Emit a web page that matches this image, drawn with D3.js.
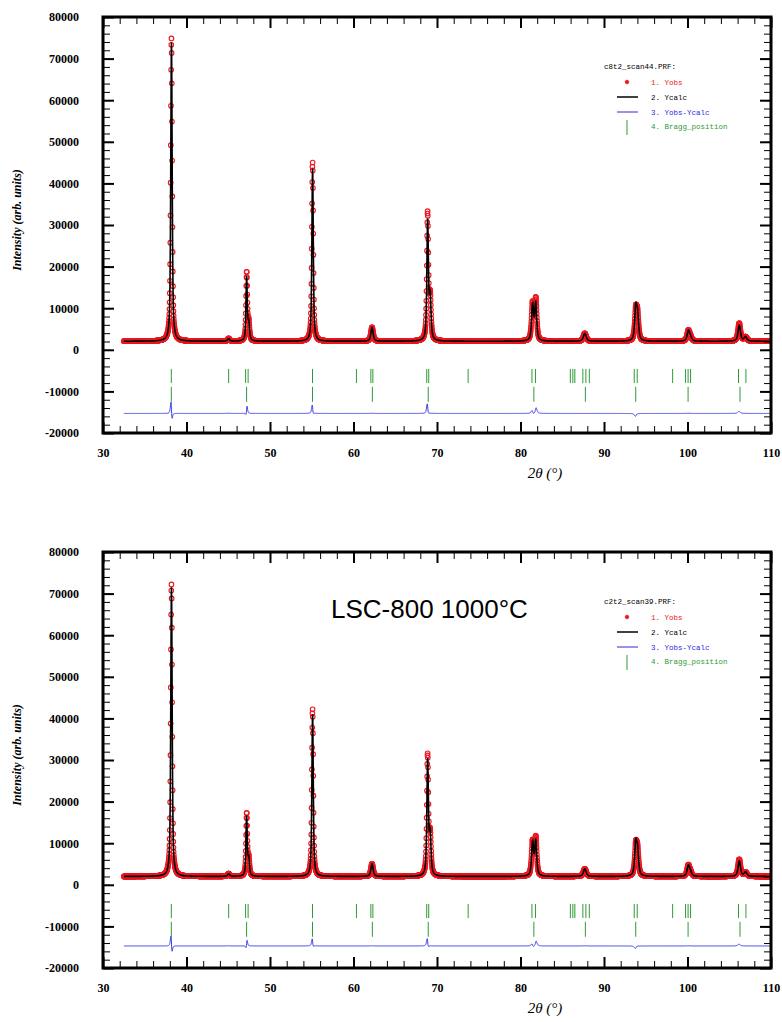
<!DOCTYPE html>
<html>
<head>
<meta charset="utf-8">
<script src="https://cdn.jsdelivr.net/npm/d3@7"></script>
<style>
  body { margin: 0; background: #fff; }
  svg text { fill: #000; }
</style>
</head>
<body>
<div id="chart"></div>
<script>
// scan range and step (deg 2theta)
const scanStart = 32.5;
const scanEnd = 110;
const scanStep = 0.02;

const xTickValues = [30, 40, 50, 60, 70, 80, 90, 100, 110];
const yTickValues = [80000, 70000, 60000, 50000, 40000, 30000, 20000, 10000, 0, -10000, -20000];

// reflections (c8t2_scan44)
const peakPosTop = [38.2, 45.05, 47.2, 47.45, 55.1, 62.22, 68.88, 69.18, 81.45, 81.82, 87.7, 93.8, 94.02, 100.1, 100.35, 106.2, 106.95];
const peakFwhmTop = [0.2, 0.3, 0.18, 0.22, 0.2, 0.32, 0.22, 0.25, 0.28, 0.28, 0.4, 0.3, 0.3, 0.35, 0.35, 0.35, 0.4];
const calcHeightTop = [71800, 600, 15200, 4200, 41500, 3300, 28500, 10000, 8500, 8800, 1900, 7500, 5800, 2400, 900, 3800, 1000];
const obsHeightTop = [72900, 650, 16300, 4200, 43000, 3350, 30300, 10000, 8900, 10000, 1900, 6900, 5800, 2450, 900, 4300, 1000];
const obsShiftTop = [-0.004, 0, 0.008, 0, -0.003, 0, -0.005, 0, -0.008, 0.008, 0, 0.006, 0, 0, 0, -0.004, 0];
const backgroundTop = 2050;
const diffOffsetTop = -15300;

// reflections (c2t2_scan39)
const peakPosBottom = [38.2, 45.05, 47.2, 47.45, 55.1, 62.22, 68.88, 69.18, 81.45, 81.82, 87.7, 93.8, 94.02, 100.1, 100.35, 106.2, 106.95];
const peakFwhmBottom = [0.2, 0.3, 0.18, 0.22, 0.2, 0.32, 0.22, 0.25, 0.28, 0.28, 0.4, 0.3, 0.3, 0.35, 0.35, 0.35, 0.4];
const calcHeightBottom = [69500, 600, 14200, 4000, 39000, 3000, 27500, 9500, 8000, 8200, 1800, 7400, 5700, 2500, 900, 3700, 1000];
const obsHeightBottom = [70300, 650, 14900, 4000, 40200, 3050, 28700, 9500, 8200, 9200, 1850, 6900, 5700, 2550, 900, 4100, 1000];
const obsShiftBottom = [-0.004, 0, 0.008, 0, -0.003, 0, -0.005, 0, -0.008, 0.008, 0, 0.006, 0, 0, 0, -0.004, 0];
const backgroundBottom = 2000;
const diffOffsetBottom = -14700;

// Bragg positions, two phases
const braggPhase1 = [38.18, 45.05, 47.08, 47.38, 55.09, 60.35, 62.08, 62.32, 68.77, 69.01, 73.73, 81.37, 81.79, 85.97, 86.27, 86.51, 87.47, 87.83, 88.24, 93.62, 93.98, 98.22, 99.77, 100.07, 100.37, 106.11, 107.0];
const braggPhase2 = [38.18, 47.2, 55.09, 62.26, 68.95, 81.6, 87.77, 93.8, 100.07, 106.29];

const legendLabels = ["1. Yobs", "2. Ycalc", "3. Yobs-Ycalc", "4. Bragg_position"];

const width = 782, height = 1022;
const margin = { left: 103, right: 11 };
const plotHeight = 416;
const red = "#ec1820", blue = "#2a2ae0", green = "#2f9a35";

const svg = d3.select("#chart").append("svg")
  .attr("width", width)
  .attr("height", height)
  .style("font-family", "'Liberation Serif', 'Times New Roman', serif");

let xScale = d3.scaleLinear()
  .domain([30, 110])
  .range([margin.left, width - margin.right]);

let scanX = d3.range(Math.round((scanEnd - scanStart) / scanStep) + 1).map((i) => scanStart + i * scanStep);

function pseudoVoigt(x, pos, fwhm) {
  let u = (x - pos) / fwhm;
  let lor = 1 / (1 + 4 * u * u);
  let gau = Math.exp(-4 * Math.LN2 * u * u);
  return 0.65 * lor + 0.35 * gau;
}

function profile(x, pos, fwhm, heights, shifts, bg) {
  let y = bg;
  for (let i = 0; i < pos.length; i++) {
    y += heights[i] * pseudoVoigt(x, pos[i] + (shifts ? shifts[i] : 0), fwhm[i]);
  }
  return y;
}

function createPanel(top, p) {
  let yScale = d3.scaleLinear()
    .domain([-20000, 80000])
    .range([top + plotHeight, top]);

  let g = svg.append("g");
  let clipId = "clip" + top;
  g.append("clipPath").attr("id", clipId)
    .append("rect")
    .attr("x", margin.left).attr("y", top)
    .attr("width", width - margin.right - margin.left).attr("height", plotHeight);

  let data = scanX.map((x) => {
    let calc = profile(x, p.pos, p.fwhm, p.calc, null, p.bg);
    let obs = profile(x, p.pos, p.fwhm, p.obs, p.shift, p.bg);
    return { x: x, calc: calc, obs: obs, diff: obs - calc + p.diffOffset };
  });

  let plot = g.append("g").attr("clip-path", `url(#${clipId})`);

  plot.append("g")
    .selectAll("circle")
    .data(data)
    .join("circle")
    .attr("cx", (d) => xScale(d.x))
    .attr("cy", (d) => yScale(d.obs))
    .attr("r", 2.3)
    .attr("fill", "none")
    .attr("stroke", red)
    .attr("stroke-width", 1.1);

  plot.append("path")
    .datum(data)
    .attr("fill", "none")
    .attr("stroke", "#000")
    .attr("stroke-width", 1.6)
    .attr("d", d3.line().x((d) => xScale(d.x)).y((d) => yScale(d.calc)));

  plot.append("path")
    .datum(data)
    .attr("fill", "none")
    .attr("stroke", blue)
    .attr("stroke-width", 0.9)
    .attr("d", d3.line().x((d) => xScale(d.x)).y((d) => yScale(d.diff)));

  plot.append("g")
    .selectAll("line")
    .data(braggPhase1)
    .join("line")
    .attr("x1", (d) => xScale(d)).attr("x2", (d) => xScale(d))
    .attr("y1", yScale(-4600)).attr("y2", yScale(-8000))
    .attr("stroke", green).attr("stroke-width", 1);

  plot.append("g")
    .selectAll("line")
    .data(braggPhase2)
    .join("line")
    .attr("x1", (d) => xScale(d)).attr("x2", (d) => xScale(d))
    .attr("y1", yScale(-8900)).attr("y2", yScale(-12500))
    .attr("stroke", green).attr("stroke-width", 1);

  // axes, ticks pointing inwards
  let bottomY = top + plotHeight;
  let right = width - margin.right;
  let minorX = d3.range(30, 110.1, 2);
  let minorY = d3.range(-20000, 80001, 2000);

  function styleAxis(sel, major) {
    sel.select(".domain").remove();
    sel.selectAll(".tick line").attr("stroke", "#000").attr("stroke-width", major ? 2 : 1);
    sel.selectAll(".tick text")
      .attr("fill", "#000")
      .style("font-family", "'Liberation Serif', serif")
      .style("font-weight", "bold")
      .style("font-size", "12px");
  }

  g.append("g").attr("transform", `translate(${margin.left},0)`)
    .call(d3.axisLeft(yScale).tickValues(minorY).tickSize(-7).tickFormat(""))
    .call(styleAxis, false);
  g.append("g").attr("transform", `translate(${margin.left},0)`)
    .call(d3.axisLeft(yScale).tickValues(yTickValues).tickSize(-11).tickPadding(24).tickFormat((d) => String(d)))
    .call(styleAxis, true);
  g.append("g").attr("transform", `translate(${right},0)`)
    .call(d3.axisRight(yScale).tickValues(minorY).tickSize(-7).tickFormat(""))
    .call(styleAxis, false);
  g.append("g").attr("transform", `translate(${right},0)`)
    .call(d3.axisRight(yScale).tickValues(yTickValues).tickSize(-11).tickFormat(""))
    .call(styleAxis, true);

  g.append("g").attr("transform", `translate(0,${bottomY})`)
    .call(d3.axisBottom(xScale).tickValues(minorX).tickSize(-7).tickFormat(""))
    .call(styleAxis, false);
  g.append("g").attr("transform", `translate(0,${bottomY})`)
    .call(d3.axisBottom(xScale).tickValues(xTickValues).tickSize(-11).tickPadding(15).tickFormat((d) => String(d)))
    .call(styleAxis, true);
  g.append("g").attr("transform", `translate(0,${top})`)
    .call(d3.axisTop(xScale).tickValues(minorX).tickSize(-7).tickFormat(""))
    .call(styleAxis, false);
  g.append("g").attr("transform", `translate(0,${top})`)
    .call(d3.axisTop(xScale).tickValues(xTickValues).tickSize(-11).tickFormat(""))
    .call(styleAxis, true);

  g.append("rect")
    .attr("x", margin.left).attr("y", top)
    .attr("width", right - margin.left).attr("height", plotHeight)
    .attr("fill", "none").attr("stroke", "#000").attr("stroke-width", 3);

  // axis titles
  g.append("text")
    .attr("transform", `translate(21,${top + 203}) rotate(-90)`)
    .attr("text-anchor", "middle")
    .style("font-weight", "bold").style("font-style", "italic").style("font-size", "12px")
    .text("Intensity (arb. units)");

  g.append("text")
    .attr("x", 545).attr("y", bottomY + 45)
    .attr("text-anchor", "middle")
    .style("font-style", "italic").style("font-size", "15px")
    .text("2θ (°)");

  // legend
  let lg = g.append("g")
    .attr("transform", `translate(0,${top})`)
    .style("font-family", "'Liberation Mono', 'DejaVu Sans Mono', monospace")
    .style("font-size", "7.5px");
  lg.append("text").attr("x", 604).attr("y", 52).text(p.fileName);
  let colors = [red, "#000", blue, green];
  legendLabels.forEach((label, i) => {
    let ly = [65, 80, 95, 109][i];
    lg.append("text").attr("x", 651).attr("y", ly + 3).style("fill", colors[i]).text(label);
  });
  lg.append("circle").attr("cx", 627).attr("cy", 65).attr("r", 1.8)
    .attr("fill", red).attr("stroke", red).attr("stroke-width", 0.8);
  lg.append("line").attr("x1", 617).attr("x2", 638).attr("y1", 80).attr("y2", 80)
    .attr("stroke", "#000").attr("stroke-width", 1.5);
  lg.append("line").attr("x1", 617).attr("x2", 638).attr("y1", 95).attr("y2", 95)
    .attr("stroke", blue).attr("stroke-width", 1);
  lg.append("line").attr("x1", 627).attr("x2", 627).attr("y1", 103).attr("y2", 118)
    .attr("stroke", green).attr("stroke-width", 1);

  if (p.annotation) {
    g.append("text")
      .attr("x", 331).attr("y", top + 66)
      .style("font-family", "'Liberation Sans', Arial, sans-serif")
      .style("font-size", "26px")
      .text(p.annotation);
  }
}

createPanel(17, {
  fileName: "c8t2_scan44.PRF:",
  pos: peakPosTop, fwhm: peakFwhmTop, calc: calcHeightTop, obs: obsHeightTop, shift: obsShiftTop,
  bg: backgroundTop, diffOffset: diffOffsetTop
});

createPanel(552, {
  fileName: "c2t2_scan39.PRF:",
  pos: peakPosBottom, fwhm: peakFwhmBottom, calc: calcHeightBottom, obs: obsHeightBottom, shift: obsShiftBottom,
  bg: backgroundBottom, diffOffset: diffOffsetBottom,
  annotation: "LSC-800 1000°C"
});
</script>
</body>
</html>
